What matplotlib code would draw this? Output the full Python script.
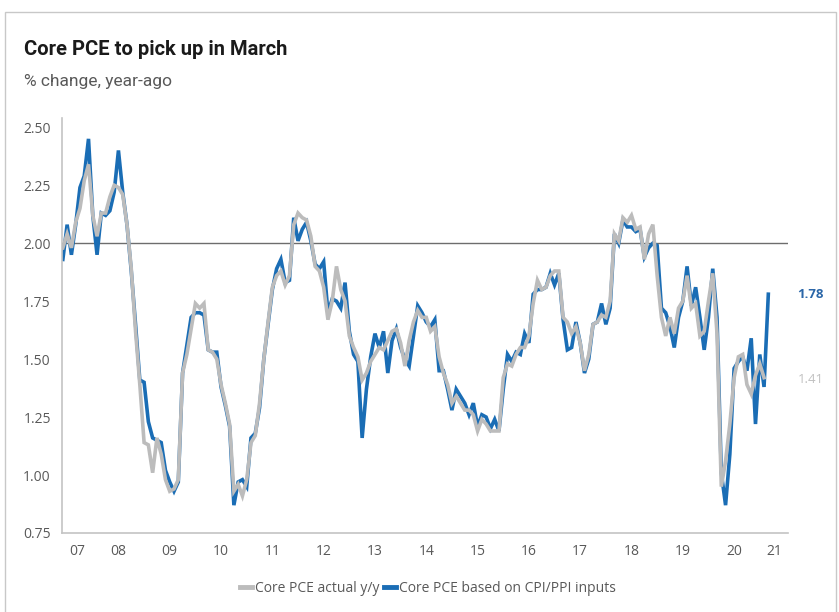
import matplotlib.pyplot as plt
import matplotlib.patches as mpatches
from matplotlib.lines import Line2D
import numpy as np
import pandas as pd

# monthly, Jun 2007 - Mar 2021
months = pd.date_range("2007-06-01", "2021-03-01", freq="MS")

cpi_ppi_based = [
    1.93, 2.08, 1.95, 2.08, 2.24, 2.29, 2.45, 2.12, 1.95, 2.13,
    2.12, 2.14, 2.22, 2.40, 2.22, 2.08, 1.88, 1.65, 1.41, 1.40,
    1.23, 1.16, 1.15, 1.14, 1.02, 0.97, 0.93, 0.97, 1.44, 1.56,
    1.68, 1.70, 1.70, 1.69, 1.54, 1.53, 1.53, 1.38, 1.30, 1.21,
    0.87, 0.97, 0.98, 0.95, 1.16, 1.18, 1.29, 1.50, 1.65, 1.80,
    1.89, 1.93, 1.83, 1.84, 2.11, 2.01, 2.06, 2.09, 2.01, 1.91,
    1.89, 1.92, 1.70, 1.76, 1.75, 1.72, 1.83, 1.62, 1.52, 1.49,
    1.16, 1.37, 1.51, 1.61, 1.55, 1.62, 1.44, 1.58, 1.63, 1.55,
    1.50, 1.47, 1.60, 1.73, 1.70, 1.66, 1.64, 1.67, 1.45, 1.45,
    1.37, 1.28, 1.37, 1.34, 1.31, 1.26, 1.31, 1.21, 1.26, 1.25,
    1.20, 1.24, 1.19, 1.37, 1.52, 1.49, 1.53, 1.52, 1.61, 1.57,
    1.78, 1.80, 1.80, 1.81, 1.87, 1.82, 1.87, 1.67, 1.54, 1.55,
    1.66, 1.57, 1.44, 1.50, 1.65, 1.66, 1.74, 1.65, 1.72, 2.04,
    2.00, 2.10, 2.07, 2.07, 2.05, 2.06, 1.94, 1.98, 2.00, 1.99,
    1.72, 1.70, 1.64, 1.55, 1.68, 1.75, 1.90, 1.73, 1.81, 1.68,
    1.54, 1.68, 1.89, 1.68, 1.01, 0.87, 1.09, 1.46, 1.49, 1.51,
    1.45, 1.59, 1.22, 1.52, 1.38, 1.78,
]

# actual runs to Feb 2021
pce_actual = [
    1.98, 2.04, 1.98, 2.09, 2.15, 2.27, 2.34, 2.12, 2.03, 2.13,
    2.13, 2.20, 2.25, 2.24, 2.21, 2.08, 1.89, 1.62, 1.39, 1.14,
    1.13, 1.01, 1.16, 1.09, 0.98, 0.93, 0.94, 0.98, 1.44, 1.52,
    1.63, 1.74, 1.72, 1.74, 1.54, 1.53, 1.50, 1.39, 1.31, 1.22,
    0.93, 0.96, 0.91, 0.98, 1.14, 1.17, 1.31, 1.50, 1.66, 1.81,
    1.86, 1.88, 1.82, 1.86, 2.08, 2.13, 2.11, 2.10, 2.03, 1.90,
    1.88, 1.81, 1.67, 1.75, 1.90, 1.80, 1.75, 1.60, 1.55, 1.51,
    1.41, 1.44, 1.49, 1.52, 1.55, 1.54, 1.58, 1.62, 1.63, 1.57,
    1.47, 1.58, 1.66, 1.71, 1.68, 1.68, 1.62, 1.64, 1.51, 1.44,
    1.39, 1.31, 1.34, 1.31, 1.28, 1.28, 1.26, 1.19, 1.24, 1.22,
    1.19, 1.19, 1.19, 1.42, 1.48, 1.47, 1.52, 1.55, 1.55, 1.60,
    1.74, 1.84, 1.80, 1.81, 1.86, 1.88, 1.88, 1.68, 1.66, 1.61,
    1.64, 1.57, 1.45, 1.52, 1.65, 1.66, 1.69, 1.68, 1.75, 2.04,
    2.01, 2.11, 2.09, 2.12, 2.06, 2.07, 1.93, 2.04, 2.08, 1.86,
    1.68, 1.60, 1.68, 1.61, 1.72, 1.75, 1.86, 1.72, 1.74, 1.60,
    1.62, 1.75, 1.87, 1.61, 0.95, 1.06, 1.22, 1.42, 1.51, 1.52,
    1.39, 1.35, 1.43, 1.48, 1.42,
]

years = list(range(2007, 2022))
year_labels = [str(y)[2:] for y in years]
y_ticks = [0.75, 1.00, 1.25, 1.50, 1.75, 2.00, 2.25, 2.50]

BLUE = "#1a6db5"
GREY = "#bcbcbc"
TXT = "#595959"

t = months.year + (months.month - 1) / 12.0
t_blue = np.asarray(t)
t_grey = t_blue[:len(pce_actual)]

fig = plt.figure(figsize=(8.39, 6.12), dpi=100)
ax = fig.add_axes([0.0739, 0.1291, 0.8653, 0.6781])

ax.axhline(2.0, color="#6d6d6d", lw=1.0, zorder=1)
ax.plot(t_blue, cpi_ppi_based, color=BLUE, lw=2.6, solid_joinstyle="miter", zorder=2)
ax.plot(t_grey, pce_actual, color=GREY, lw=2.6, solid_joinstyle="miter", zorder=3)

xmin, xmax = 2007.40, 2021.55
ax.set_xlim(xmin, xmax)
ax.set_ylim(0.75, 2.54)

# year labels centred in each year's band (clipped at the ends)
tick_pos = []
for y in years:
    lo, hi = max(y, xmin), min(y + 1, xmax)
    tick_pos.append((lo + hi) / 2)
ax.set_xticks(tick_pos)
ax.set_xticklabels(year_labels)
ax.set_yticks(y_ticks)
ax.set_yticklabels([f"{v:.2f}" for v in y_ticks])
ax.tick_params(length=0, labelsize=10, labelcolor=TXT, pad=8)
for lab in ax.get_xticklabels() + ax.get_yticklabels():
    lab.set_family("Open Sans")

for s in ["top", "right"]:
    ax.spines[s].set_visible(False)
for s in ["left", "bottom"]:
    ax.spines[s].set_color("#c4c4c4")
    ax.spines[s].set_linewidth(1.2)

# end-point labels
ax.text(1.013, 1.78, f"{cpi_ppi_based[-1]:.2f}", transform=ax.get_yaxis_transform(),
        color="#2a66a8", fontsize=9.5, fontweight="bold", va="center", family="Open Sans")
ax.text(1.013, 1.41, "1.41", transform=ax.get_yaxis_transform(),
        color="#c0c0c0", fontsize=9.5, va="center", family="Open Sans")

handles = [Line2D([0], [0], color=GREY, lw=3.5), Line2D([0], [0], color=BLUE, lw=3.5)]
leg = fig.legend(handles, ["Core PCE actual y/y", "Core PCE based on CPI/PPI inputs"],
                 loc="center", bbox_to_anchor=(0.51, 0.039), ncol=2, frameon=False,
                 handlelength=0.9, handletextpad=0.2, columnspacing=0.3,
                 prop={"family": "Open Sans", "size": 10})
for txt in leg.get_texts():
    txt.set_color(TXT)

fig.text(24 / 839, 1 - 55 / 612, "Core PCE to pick up in March", fontsize=14.5,
         fontweight="bold", color="#1a1a1a", va="baseline", family="Roboto")
fig.text(24 / 839, 1 - 86 / 612, "% change, year-ago", fontsize=12.5, color=TXT,
         va="baseline", family="Roboto")

fig.patches.append(mpatches.Rectangle((5 / 839, -0.02), 831 / 839, 1 - 12 / 612 + 0.02,
                                      transform=fig.transFigure, fill=False,
                                      edgecolor="#c8c8c8", lw=1.0))

fig.savefig("out.png", dpi=100)
